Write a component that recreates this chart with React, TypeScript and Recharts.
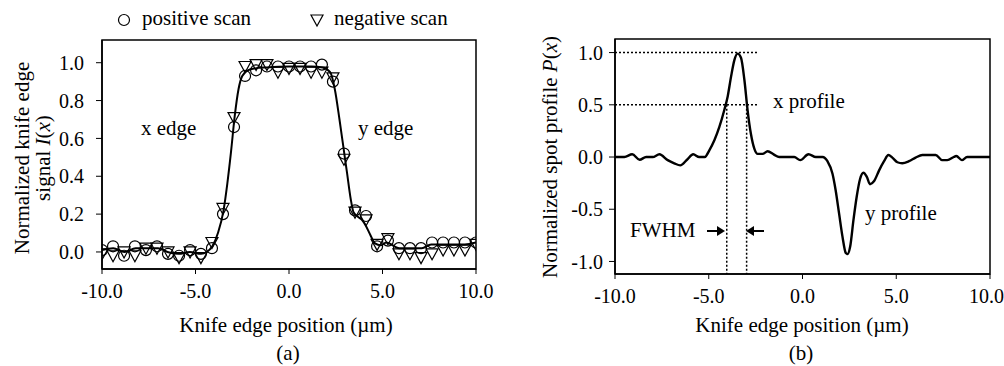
import React from 'react';
import {
  ComposedChart,
  Line,
  Scatter,
  XAxis,
  YAxis,
  ReferenceArea,
  ReferenceLine,
} from 'recharts';

const FONT = '"Liberation Serif", "Times New Roman", serif';

// knife edge scan positions (um)
const scanX = [
  -10.0, -9.41, -8.82, -8.24, -7.65, -7.06, -6.47, -5.88, -5.29, -4.71, -4.12, -3.53,
  -2.94, -2.35, -1.76, -1.18, -0.59, 0.0, 0.59, 1.18, 1.76, 2.35, 2.94, 3.53, 4.12,
  4.71, 5.29, 5.88, 6.47, 7.06, 7.65, 8.24, 8.82, 9.41, 10.0,
];
const positiveScan = [
  0.01, 0.03, -0.02, 0.03, 0.01, 0.03, -0.01, -0.02, 0.01, -0.01, 0.02, 0.2,
  0.66, 0.93, 0.96, 0.98, 0.98, 0.98, 0.98, 0.98, 0.99, 0.9, 0.52, 0.22, 0.19,
  0.03, 0.06, 0.02, 0.02, 0.02, 0.05, 0.05, 0.05, 0.05, 0.05,
];
const negativeScan = [
  -0.01, -0.02, 0.0, -0.02, 0.02, 0.02, 0.0, -0.03, 0.0, -0.03, 0.05, 0.23,
  0.71, 0.98, 0.99, 0.99, 0.95, 0.97, 0.97, 0.95, 0.95, 0.92, 0.49, 0.21, 0.17,
  0.04, 0.07, -0.01, -0.01, -0.03, -0.01, 0.01, 0.01, 0.01, 0.04,
];

// fitted edge signal
const fitX = [
  -10, -9.4, -8.8, -8.2, -7.6, -7.0, -6.5, -5.9, -5.3, -4.7, -4.4, -4.1, -3.8, -3.5,
  -3.3, -3.1, -2.9, -2.7, -2.5, -2.2, -1.8, -1.2, 0, 1.2, 1.8, 2.2, 2.45, 2.7, 2.9,
  3.1, 3.3, 3.45, 3.7, 3.9, 4.1, 4.35, 4.6, 4.9, 5.2, 5.9, 6.5, 7.1, 7.6, 8.2, 8.8,
  9.4, 10,
];
const fitY = [
  0.01, 0.02, 0.0, 0.02, 0.02, 0.02, 0.0, -0.01, 0.0, -0.01, 0.0, 0.03, 0.1, 0.22,
  0.36, 0.53, 0.72, 0.86, 0.93, 0.96, 0.97, 0.975, 0.98, 0.98, 0.975, 0.95, 0.86,
  0.7, 0.56, 0.42, 0.28, 0.21, 0.185, 0.17, 0.14, 0.09, 0.045, 0.035, 0.05, 0.02,
  0.02, 0.02, 0.04, 0.04, 0.04, 0.04, 0.05,
];

// spot profile P(x)
const profileX = [
  -10, -9.84, -9.5, -9.08, -8.69, -8.34, -7.99, -7.63, -7.19, -6.84, -6.52, -6.16,
  -5.83, -5.51, -5.21, -4.97, -4.7, -4.43, -4.17, -3.99, -3.81, -3.63, -3.46, -3.28,
  -3.1, -2.93, -2.75, -2.57, -2.39, -2.13, -1.86, -1.54, -1.24, -0.44, -0.12, 0.32,
  0.71, 1.07, 1.33, 1.6, 1.77, 1.95, 2.13, 2.31, 2.4, 2.54, 2.72, 2.89, 3.07, 3.25,
  3.43, 3.6, 3.82, 4.08, 4.35, 4.58, 4.79, 5.06, 5.32, 5.68, 6.03, 6.39, 7.1, 7.45,
  7.72, 8.07, 8.2, 8.5, 8.78, 10,
];
const profileY = [
  0, 0, 0, 0.026, -0.026, 0, 0, 0.026, -0.03, -0.06, -0.08, -0.026, 0.026, 0, 0,
  0.064, 0.16, 0.29, 0.45, 0.58, 0.77, 0.93, 0.99, 0.95, 0.74, 0.45, 0.22, 0.08,
  0.03, 0.03, 0.055, 0.026, 0, 0, -0.03, 0.026, 0, 0, -0.04, -0.16, -0.32, -0.54,
  -0.76, -0.92, -0.93, -0.86, -0.6, -0.38, -0.21, -0.15, -0.19, -0.26, -0.23, -0.13,
  -0.04, 0.02, -0.006, -0.05, -0.06, -0.04, -0.006, 0.02, 0.02, -0.03, -0.03, 0,
  0.01, -0.03, 0, 0,
];

const xTicks = [-10, -5, 0, 5, 10];
const edgeTicks = [0, 0.2, 0.4, 0.6, 0.8, 1.0];
const profileTicks = [-1.0, -0.5, 0, 0.5, 1.0];

const posData = scanX.map((x, i) => ({ x, y: positiveScan[i] }));
const negData = scanX.map((x, i) => ({ x, y: negativeScan[i] }));
const fitData = fitX.map((x, i) => ({ x, y: fitY[i] }));
const profileData = profileX.map((x, i) => ({ x, y: profileY[i] }));

const tickStyle = { fill: '#000', fontSize: 20, fontFamily: FONT };
const fmt = (v: number) => v.toFixed(1);

const CircleMark = (props: any) => (
  <circle cx={props.cx} cy={props.cy} r={5.5} fill="none" stroke="#000" strokeWidth={1.2} />
);
const TriangleMark = (props: any) => {
  const { cx, cy } = props;
  return (
    <path
      d={`M${cx - 6},${cy - 5} L${cx + 6},${cy - 5} L${cx},${cy + 6} Z`}
      fill="none"
      stroke="#000"
      strokeWidth={1.2}
    />
  );
};

const EdgeChart = () => (
  <ComposedChart
    width={500}
    height={366}
    margin={{ top: 40, right: 24, left: 0, bottom: 67 }}
  >
    <XAxis
      dataKey="x"
      type="number"
      domain={[-10, 10]}
      ticks={xTicks}
      tickFormatter={fmt}
      height={30}
      tick={tickStyle}
      tickSize={5}
      tickMargin={10}
      axisLine={{ stroke: '#000', strokeWidth: 1.5 }}
      tickLine={{ stroke: '#000' }}
      allowDataOverflow
    />
    <YAxis
      dataKey="y"
      type="number"
      domain={[-0.09, 1.12]}
      ticks={edgeTicks}
      tickFormatter={fmt}
      width={102}
      tick={tickStyle}
      tickSize={6}
      tickMargin={12}
      axisLine={{ stroke: '#000', strokeWidth: 1.5 }}
      tickLine={{ stroke: '#000' }}
      allowDataOverflow
    />
    <ReferenceArea x1={-10} x2={10} y1={-0.09} y2={1.12} fill="none" stroke="#000" strokeWidth={1.5} />
    <Line
      data={fitData}
      dataKey="y"
      type="monotone"
      dot={false}
      stroke="#000"
      strokeWidth={2}
      isAnimationActive={false}
    />
    <Scatter data={posData} dataKey="y" shape={CircleMark} isAnimationActive={false} />
    <Scatter data={negData} dataKey="y" shape={TriangleMark} isAnimationActive={false} />
  </ComposedChart>
);

const dotted = { stroke: '#000', strokeWidth: 1.5, strokeDasharray: '2 2' };

const ProfileChart = () => (
  <ComposedChart
    width={504}
    height={366}
    margin={{ top: 39, right: 14, left: 0, bottom: 62 }}
  >
    <XAxis
      dataKey="x"
      type="number"
      domain={[-10, 10]}
      ticks={xTicks}
      tickFormatter={fmt}
      height={30}
      tick={tickStyle}
      tickSize={5}
      tickMargin={10}
      axisLine={{ stroke: '#000', strokeWidth: 1.5 }}
      tickLine={{ stroke: '#000' }}
      allowDataOverflow
    />
    <YAxis
      dataKey="y"
      type="number"
      domain={[-1.12, 1.13]}
      ticks={profileTicks}
      tickFormatter={fmt}
      width={115}
      tick={tickStyle}
      tickSize={6}
      tickMargin={6}
      axisLine={{ stroke: '#000', strokeWidth: 1.5 }}
      tickLine={{ stroke: '#000' }}
      allowDataOverflow
    />
    <ReferenceArea x1={-10} x2={10} y1={-1.12} y2={1.13} fill="none" stroke="#000" strokeWidth={1.5} />
    <ReferenceLine segment={[{ x: -10, y: 1 }, { x: -2.4, y: 1 }]} {...dotted} />
    <ReferenceLine segment={[{ x: -10, y: 0.5 }, { x: -2.4, y: 0.5 }]} {...dotted} />
    <ReferenceLine segment={[{ x: -4.04, y: 0.5 }, { x: -4.04, y: -1.12 }]} {...dotted} />
    <ReferenceLine segment={[{ x: -2.98, y: 0.5 }, { x: -2.98, y: -1.12 }]} {...dotted} />
    <Line
      data={profileData}
      dataKey="y"
      type="monotone"
      dot={false}
      stroke="#000"
      strokeWidth={2.4}
      isAnimationActive={false}
    />
  </ComposedChart>
);

const Overlay = () => (
  <svg
    width={1004}
    height={366}
    style={{ position: 'absolute', left: 0, top: 0, pointerEvents: 'none' }}
    fontFamily={FONT}
    fontSize={21}
    fill="#000"
  >
    {/* legend */}
    <circle cx={124} cy={20} r={5.5} fill="none" stroke="#000" strokeWidth={1.2} />
    <text x={142} y={25}>positive scan</text>
    <path d="M311,15 L323,15 L317,26 Z" fill="none" stroke="#000" strokeWidth={1.2} />
    <text x={334} y={25}>negative scan</text>

    <text x={141} y={135}>x edge</text>
    <text x={358} y={135}>y edge</text>

    {/* left y title */}
    <text transform="translate(22,158) rotate(-90)" textAnchor="middle" dominantBaseline="central">
      Normalized knife edge
    </text>
    <text transform="translate(43,158) rotate(-90)" textAnchor="middle" dominantBaseline="central">
      signal <tspan fontStyle="italic">I</tspan>(<tspan fontStyle="italic">x</tspan>)
    </text>

    <text x={286} y={332} textAnchor="middle">Knife edge position (µm)</text>
    <text x={288} y={360} textAnchor="middle">(a)</text>

    {/* right chart annotations */}
    <text transform="translate(550,157) rotate(-90)" textAnchor="middle" dominantBaseline="central">
      Normalized spot profile <tspan fontStyle="italic">P</tspan>(<tspan fontStyle="italic">x</tspan>)
    </text>
    <text x={773} y={108}>x profile</text>
    <text x={865} y={220}>y profile</text>
    <text x={630} y={237}>FWHM</text>
    <line x1={707} y1={231} x2={718} y2={231} stroke="#000" strokeWidth={2} />
    <path d="M717,226 L725,231 L717,236 Z" fill="#000" />
    <line x1={753} y1={231} x2={764} y2={231} stroke="#000" strokeWidth={2} />
    <path d="M754,226 L746,231 L754,236 Z" fill="#000" />

    <text x={802} y={332} textAnchor="middle">Knife edge position (µm)</text>
    <text x={801} y={360} textAnchor="middle">(b)</text>
  </svg>
);

export default function App() {
  return (
    <div style={{ position: 'relative', width: 1004, height: 366, background: '#fff' }}>
      <style>{'body{margin:0;}'}</style>
      <div style={{ position: 'absolute', left: 0, top: 0 }}>
        <EdgeChart />
      </div>
      <div style={{ position: 'absolute', left: 500, top: 0 }}>
        <ProfileChart />
      </div>
      <Overlay />
    </div>
  );
}
